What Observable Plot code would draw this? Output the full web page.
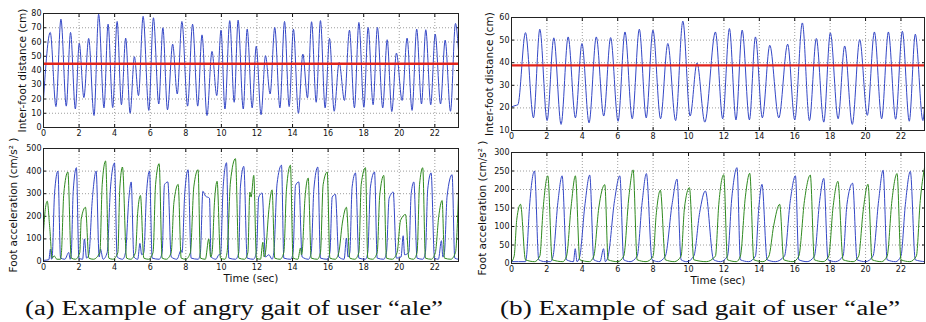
<!DOCTYPE html>
<html><head><meta charset="utf-8">
<script src="https://cdn.jsdelivr.net/npm/d3@7"></script>
<script src="https://cdn.jsdelivr.net/npm/@observablehq/plot@0.6"></script>
<style>
body{margin:0;background:#fff;}
#wrap{position:relative;width:926px;height:322px;overflow:hidden;background:#fff;}
#wrap svg{position:absolute;left:0;top:0;}
</style></head><body><div id="wrap"></div>
<script>
// ---------- data ----------
const xTicks = [0,2,4,6,8,10,12,14,16,18,20,22];
const timeMax = 23.33;

// (a) angry gait: inter-foot distance [time, cm]
const distAngry = [[0,20],[0.38,66.7],[0.7,14.7],[0.98,76],[1.28,15],[1.52,66.7],[1.79,13],[2.01,59],[2.27,21],[2.54,62.5],[2.84,8.4],[3.1,79.5],[3.4,13.8],[3.63,72.5],[3.89,14],[4.14,74.4],[4.38,16],[4.62,62.7],[4.87,10],[5.11,49.7],[5.34,22.4],[5.6,78],[5.92,12],[6.18,77],[6.48,16.5],[6.71,70],[6.97,12.4],[7.26,58.5],[7.52,23.5],[7.78,74.4],[8.1,15],[8.38,72.5],[8.67,15],[8.91,65],[9.19,8.4],[9.47,53.4],[9.74,22.4],[9.98,68.3],[10.2,13],[10.47,75],[10.72,17.7],[10.94,75.3],[11.23,13],[11.45,69],[11.73,13.8],[11.96,57],[12.23,9],[12.48,50.4],[12.74,23.5],[13.0,70.2],[13.29,13.8],[13.55,74.4],[13.81,14.7],[14.05,69],[14.33,10],[14.58,51.5],[14.84,20.8],[15.07,74.2],[15.33,17.7],[15.57,75],[15.83,13.8],[16.08,62.5],[16.34,11.4],[16.62,45.7],[16.92,19],[17.2,68.3],[17.48,13.8],[17.73,73.7],[18.01,14.2],[18.25,70.2],[18.53,16],[18.77,70.2],[19.07,13.8],[19.32,61.6],[19.58,11.2],[19.84,52.2],[20.16,19],[20.44,62.7],[20.72,12],[20.98,69],[21.25,16.5],[21.49,68.6],[21.77,16],[22.02,65.5],[22.32,16.5],[22.58,61.3],[22.88,11.4],[23.16,73],[23.33,54]];
const meanAngry = 44.7;

// (a) angry gait: foot acceleration [time, cm/s^2]
const accAngryBlue = [[0,5],[0.3,8],[0.39,55],[0.45,10],[0.49,20],[0.62,300],[0.81,400],[0.96,15],[1.2,10],[1.42,40],[1.5,10],[1.56,30],[1.67,310],[1.85,415],[1.99,15],[2.2,10],[2.3,100],[2.42,15],[2.55,30],[2.74,270],[2.96,400],[3.13,20],[3.2,55],[3.35,10],[3.58,40],[3.77,330],[3.99,436],[4.14,20],[4.45,10],[4.61,40],[4.8,280],[4.93,352],[5.08,20],[5.3,10],[5.42,80],[5.52,30],[5.64,40],[5.79,300],[5.96,400],[6.11,15],[6.5,10],[6.67,40],[6.8,340],[6.99,352],[7.18,20],[7.5,10],[7.74,50],[7.79,40],[7.94,300],[8.13,406],[8.3,15],[8.7,10],[8.82,40],[8.96,311],[9.1,290],[9.33,280],[9.42,20],[9.7,10],[9.86,30],[9.95,30],[10.1,330],[10.29,437],[10.42,15],[10.8,10],[10.98,40],[11.07,330],[11.26,421],[11.45,15],[11.8,10],[11.97,40],[12.1,285],[12.29,303],[12.48,20],[12.67,30],[12.85,10],[12.95,40],[13.13,344],[13.38,426],[13.51,15],[13.9,10],[14.03,40],[14.17,337],[14.35,352],[14.54,20],[14.9,10],[15.05,40],[15.2,320],[15.42,418],[15.57,15],[15.95,10],[16.1,40],[16.23,285],[16.41,297],[16.6,20],[16.9,10],[17.03,104],[17.12,20],[17.22,40],[17.35,330],[17.54,392],[17.73,15],[18.1,10],[18.23,40],[18.38,330],[18.61,396],[18.76,15],[19.13,10],[19.28,40],[19.43,280],[19.66,307],[19.84,15],[20.1,20],[20.22,114],[20.3,30],[20.54,40],[20.67,300],[20.82,352],[21.0,15],[21.32,10],[21.47,40],[21.6,320],[21.79,392],[21.98,15],[22.2,10],[22.37,92],[22.45,20],[22.54,40],[22.69,290],[22.97,384],[23.12,15],[23.33,10]];
const accAngryGreen = [[0,130],[0.1,230],[0.21,267],[0.35,150],[0.49,15],[0.6,25],[0.75,10],[0.96,10],[1.01,40],[1.14,300],[1.37,396],[1.56,15],[1.8,10],[2.04,40],[2.12,188],[2.36,240],[2.55,15],[2.8,10],[3.17,40],[3.3,340],[3.49,445],[3.67,15],[3.9,10],[4.18,40],[4.29,325],[4.44,418],[4.67,15],[4.9,10],[5.17,40],[5.3,220],[5.45,292],[5.64,15],[5.9,10],[6.16,40],[6.3,340],[6.5,433],[6.67,15],[6.9,10],[7.18,40],[7.33,260],[7.57,341],[7.74,15],[8.0,10],[8.26,40],[8.45,330],[8.69,406],[8.82,15],[9.1,10],[9.29,100],[9.4,20],[9.48,40],[9.61,260],[9.76,355],[9.95,15],[10.2,10],[10.32,40],[10.51,352],[10.79,455],[10.98,15],[11.3,10],[11.49,40],[11.6,307],[11.67,285],[11.82,381],[11.97,15],[12.2,10],[12.33,85],[12.4,20],[12.48,40],[12.67,230],[12.85,317],[13.0,15],[13.3,10],[13.51,40],[13.66,320],[13.88,426],[14.03,15],[14.3,10],[14.45,60],[14.5,30],[14.54,40],[14.7,280],[14.88,369],[15.05,15],[15.4,10],[15.57,40],[15.72,340],[15.95,396],[16.1,15],[16.4,10],[16.6,40],[16.8,170],[17.03,240],[17.22,15],[17.5,10],[17.73,40],[17.86,340],[18.1,415],[18.23,15],[18.5,10],[18.76,40],[18.9,290],[19.13,381],[19.28,15],[19.6,10],[19.88,40],[20.07,181],[20.35,208],[20.54,15],[20.8,10],[21.0,40],[21.14,340],[21.32,415],[21.47,15],[21.8,10],[22.03,40],[22.22,200],[22.41,270],[22.54,15],[22.9,10],[23.16,40],[23.33,300]];

// (b) sad gait: inter-foot distance [time, cm]
const distSad = [[0,20.4],[0.2,21],[0.36,21.4],[0.79,53.3],[1.24,15.6],[1.6,54.8],[2.01,14.4],[2.39,51],[2.8,12.7],[3.2,51.4],[3.61,15.6],[3.98,48.5],[4.38,13.4],[4.79,51.4],[5.21,16.4],[5.6,51.1],[6.02,14.1],[6.41,53.6],[6.82,15.2],[7.22,54.8],[7.61,15.6],[7.99,54.4],[8.42,15.2],[8.83,48.5],[9.27,14.4],[9.68,58.4],[10.09,16.4],[10.48,39.9],[10.92,13.7],[11.52,53.6],[11.93,15.2],[12.31,55.1],[12.68,14.7],[13.03,54.4],[13.44,14.7],[13.78,51.4],[14.17,15.6],[14.59,47.7],[15.1,15.6],[15.6,48.2],[16.0,14.7],[16.43,57.6],[16.83,14.4],[17.22,50.7],[17.64,13.7],[18.01,53.2],[18.45,15.2],[18.82,47.4],[19.25,12.7],[19.67,50.2],[20.1,16.7],[20.5,53.6],[20.91,15.2],[21.29,53.6],[21.7,15],[22.08,53.9],[22.47,14.1],[22.81,52.6],[23.24,14.4],[23.33,20.7]];
const meanSad = 38.8;

// (b) sad gait: foot acceleration [time, cm/s^2]
const accSadBlue = [[0,5],[0.79,5],[0.85,20],[1.02,155],[1.3,250],[1.54,10],[1.9,5],[2.2,5],[2.35,20],[2.62,165],[2.86,237],[3.11,10],[3.5,5],[3.6,40],[3.7,5],[3.86,20],[4.14,155],[4.42,239],[4.65,10],[5.0,5],[5.2,40],[5.3,5],[5.46,20],[5.82,170],[6.12,237],[6.34,10],[6.7,5],[7.1,20],[7.38,165],[7.62,243],[7.94,10],[8.3,5],[8.69,20],[9.07,160],[9.35,228],[9.58,10],[9.9,5],[10.3,20],[10.63,138],[10.95,196],[11.42,10],[11.8,5],[12.2,20],[12.45,180],[12.74,259],[12.93,10],[13.4,5],[13.78,20],[13.97,150],[14.15,214],[14.44,10],[14.9,5],[15.42,20],[15.75,170],[16.04,237],[16.23,10],[16.7,5],[17.11,20],[17.41,170],[17.64,230],[17.88,10],[18.3,5],[18.73,20],[18.95,160],[19.27,217],[19.52,10],[20.0,5],[20.42,20],[20.74,170],[20.99,252],[21.22,10],[21.7,5],[22.0,20],[22.25,160],[22.53,249],[22.81,10],[23.33,5]];
const accSadGreen = [[0,5],[0.15,20],[0.3,120],[0.51,160],[0.79,10],[1.3,5],[1.6,20],[1.79,150],[2.05,237],[2.3,10],[2.9,5],[3.11,20],[3.37,155],[3.61,237],[3.86,10],[4.4,5],[4.65,20],[4.93,150],[5.27,213],[5.46,10],[6.0,5],[6.34,20],[6.63,180],[6.87,253],[7.1,10],[7.6,5],[8.0,20],[8.17,130],[8.41,198],[8.69,10],[9.2,5],[9.58,20],[9.77,150],[10.05,205],[10.3,10],[11.0,5],[11.52,20],[11.71,160],[11.99,240],[12.2,10],[12.7,5],[12.93,20],[13.21,180],[13.46,244],[13.69,10],[14.2,5],[14.54,20],[14.81,102],[15.15,160],[15.38,10],[15.9,5],[16.23,20],[16.55,170],[16.88,239],[17.11,10],[17.6,5],[17.92,20],[18.16,150],[18.44,222],[18.73,10],[19.3,5],[19.61,20],[19.86,140],[20.14,214],[20.37,10],[20.9,5],[21.22,20],[21.49,170],[21.78,243],[22.0,10],[22.5,5],[22.87,20],[23.09,170],[23.33,259]];

const distTicksAngry = [0,10,20,30,40,50,60,70,80];
const accTicksAngry = [0,100,200,300,400,500];
const distTicksSad = [10,20,30,40,50,60];
const accTicksSad = [0,50,100,150,200,250,300];

const distLabel = "Inter-foot distance (cm)";
const accLabel = "Foot acceleration (cm/s² )";
const timeLabel = "Time (sec)";
const captionA = "(a) Example of angry gait of user \u201cale\u201d";
const captionB = "(b) Example of sad gait of user \u201cale\u201d";

// ---------- drawing ----------
const W = 926, H = 322;
const BLUE = "#3447c6", GREEN = "#2f8a1f", RED = "#e2231a";
const wrap = document.getElementById("wrap");

function panel(o) {
  const [l, t, r, b] = o.rect;
  const grid = {stroke: "#777", strokeOpacity: 0.9, strokeDasharray: "1,2", strokeWidth: 0.8};
  const marks = [
    Plot.gridX(xTicks, grid),
    Plot.gridY(o.yTicks, grid),
    Plot.axisX(xTicks, {tickSize: -3, tickPadding: 6, label: null, fontSize: 8}),
    Plot.axisX(xTicks, {anchor: "top", tickSize: -3, tickFormat: () => "", label: null}),
    Plot.axisY(o.yTicks, {tickSize: -3, tickPadding: 5, label: null, fontSize: 8}),
    Plot.axisY(o.yTicks, {anchor: "right", tickSize: -3, tickFormat: () => "", label: null})
  ];
  for (const s of o.series) {
    marks.push(Plot.line(s.data, {x: d => d[0], y: d => d[1], stroke: s.color, strokeWidth: 1, curve: "monotone-x"}));
  }
  if (o.mean != null) marks.push(Plot.ruleY([o.mean], {stroke: RED, strokeWidth: 2.4}));
  marks.push(Plot.frame({stroke: "#222", strokeWidth: 1}));
  marks.push(Plot.text([o.ylabel], {frameAnchor: "left", rotate: -90, dx: o.ylabelDx, fontSize: 10.5, fill: "#111",
    textAnchor: "middle", lineAnchor: "middle"}));
  if (o.xlabel) marks.push(Plot.text([o.xlabel], {frameAnchor: "bottom", dy: o.xlabelDy, fontSize: 10.5, fill: "#111",
    textAnchor: "middle", lineAnchor: "middle"}));
  const svg = Plot.plot({
    width: W, height: H,
    marginLeft: l, marginTop: t, marginRight: W - r, marginBottom: H - b,
    style: {background: "transparent", fontFamily: "'DejaVu Sans', sans-serif", fontSize: "8px", color: "#111", overflow: "visible"},
    x: {domain: [0, timeMax]},
    y: {domain: o.yDomain},
    marks
  });
  wrap.appendChild(svg);
}

panel({rect: [43, 13, 458, 127], yDomain: [0, 80], yTicks: distTicksAngry,
  series: [{data: distAngry, color: BLUE}], mean: meanAngry, ylabel: distLabel, ylabelDx: -21});
panel({rect: [43, 148, 458, 261], yDomain: [0, 500], yTicks: accTicksAngry,
  series: [{data: accAngryBlue, color: BLUE}, {data: accAngryGreen, color: GREEN}], ylabel: accLabel, ylabelDx: -30,
  xlabel: timeLabel, xlabelDy: 17});
panel({rect: [511, 17, 924, 130], yDomain: [10, 60], yTicks: distTicksSad,
  series: [{data: distSad, color: BLUE}], mean: meanSad, ylabel: distLabel, ylabelDx: -22});
panel({rect: [511, 152, 924, 263], yDomain: [0, 300], yTicks: accTicksSad,
  series: [{data: accSadBlue, color: BLUE}, {data: accSadGreen, color: GREEN}], ylabel: accLabel, ylabelDx: -29,
  xlabel: timeLabel, xlabelDy: 17});

// captions
const ns = "http://www.w3.org/2000/svg";
const cap = document.createElementNS(ns, "svg");
cap.setAttribute("width", W); cap.setAttribute("height", H);
for (const [txt, x0, x1] of [[captionA, 25, 443], [captionB, 500, 900]]) {
  const t = document.createElementNS(ns, "text");
  t.setAttribute("x", x0); t.setAttribute("y", 315);
  t.setAttribute("textLength", x1 - x0);
  t.setAttribute("lengthAdjust", "spacingAndGlyphs");
  t.setAttribute("font-family", "'Liberation Serif', serif");
  t.setAttribute("font-size", "20.5");
  t.setAttribute("fill", "#111");
  t.textContent = txt;
  cap.appendChild(t);
}
wrap.appendChild(cap);
</script>
</body></html>
